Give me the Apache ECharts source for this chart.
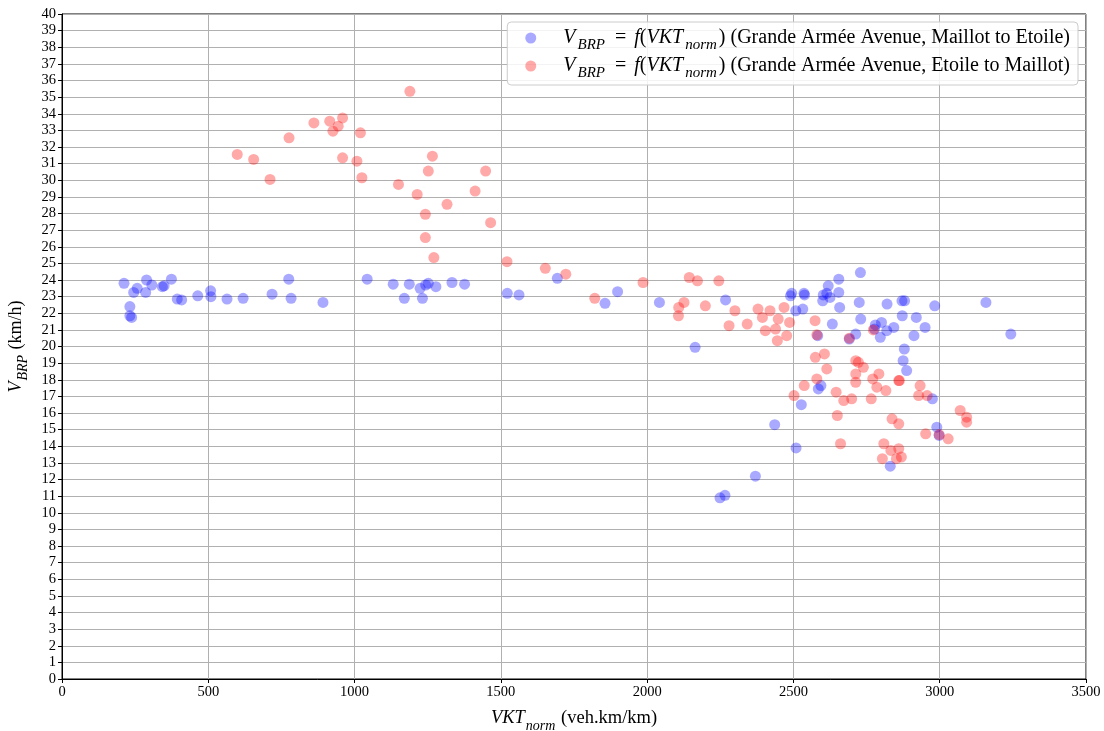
<!DOCTYPE html>
<html><head><meta charset="utf-8">
<script src="https://cdn.jsdelivr.net/npm/echarts@6/dist/echarts.min.js"></script>
<style>html,body{margin:0;padding:0;background:#fff}#c{width:1104px;height:731px}</style>
</head><body><div id="c"></div>
<script>
// Series: [VKT_norm (veh.km/km), V_BRP (km/h)]
const maillotToEtoile = [
[212,23.8],[232,22.4],[232,21.85],[238,21.75],[245,23.25],[257,23.5],[286,23.25],[289,24.0],[307,23.7],[343,23.6],[349,23.65],[374,24.05],[394,22.85],[409,22.8],[464,23.05],[508,23.35],[509,23.0],[564,22.85],[619,22.9],[718,23.15],[775,24.05],[783,22.9],[892,22.65],[1043,24.05],[1132,23.75],[1170,22.9],[1187,23.75],[1224,23.5],[1232,22.9],[1243,23.7],[1252,23.8],[1278,23.6],[1333,23.85],[1376,23.75],[1522,23.2],[1562,23.1],[1693,24.1],[1856,22.6],[1899,23.3],[2042,22.65],[2164,19.95],[2268,22.8],[2249,10.9],[2266,11.05],[2370,12.2],[2436,15.3],[2509,13.9],[2527,16.5],[2494,23.2],[2490,23.05],[2508,22.15],[2536,23.2],[2538,23.1],[2532,22.25],[2585,17.45],[2594,17.65],[2583,20.65],[2600,22.75],[2602,23.1],[2614,23.2],[2619,23.65],[2625,22.95],[2633,21.35],[2655,24.05],[2655,23.25],[2658,22.35],[2691,20.45],[2713,20.75],[2725,22.65],[2729,24.45],[2730,21.65],[2777,21.05],[2780,21.3],[2797,20.55],[2801,21.45],[2819,20.95],[2820,22.55],[2843,21.15],[2871,22.75],[2880,22.75],[2872,21.85],[2879,19.85],[2875,19.15],[2887,18.55],[2912,20.65],[2920,21.75],[2950,21.15],[2983,22.45],[2975,16.85],[2990,15.15],[2998,14.65],[2831,12.8],[3158,22.65],[3243,20.75]
];
const etoileToMaillot = [
[599,31.55],[655,31.25],[711,30.05],[776,32.55],[861,33.45],[915,33.55],[926,32.95],[944,33.25],[959,33.75],[959,31.35],[1008,31.15],[1020,32.85],[1025,30.15],[1150,29.75],[1189,35.35],[1214,29.15],[1242,27.95],[1242,26.55],[1252,30.55],[1266,31.45],[1271,25.35],[1316,28.55],[1412,29.35],[1448,30.55],[1465,27.45],[1521,25.1],[1652,24.7],[1722,24.35],[1821,22.9],[1986,23.85],[2107,21.85],[2108,22.35],[2126,22.65],[2144,24.15],[2172,23.95],[2199,22.45],[2245,23.95],[2280,21.25],[2300,22.15],[2342,21.35],[2379,22.25],[2394,21.75],[2404,20.95],[2420,22.15],[2439,21.05],[2445,20.35],[2448,21.65],[2468,22.35],[2477,20.65],[2487,21.45],[2502,17.05],[2537,17.65],[2574,21.55],[2575,19.35],[2580,20.7],[2580,18.05],[2606,19.55],[2614,18.65],[2646,17.25],[2650,15.85],[2661,14.15],[2672,16.75],[2691,20.5],[2699,16.85],[2713,19.15],[2722,19.05],[2739,18.75],[2713,18.35],[2713,17.85],[2766,16.85],[2771,18.05],[2773,21.0],[2785,17.55],[2792,18.35],[2816,17.35],[2804,13.25],[2809,14.15],[2833,13.75],[2837,15.65],[2852,13.25],[2860,13.85],[2860,15.35],[2860,17.95],[2862,17.95],[2869,13.35],[2928,17.05],[2933,17.65],[2952,14.75],[2957,17.05],[2998,14.7],[3029,14.45],[3070,16.15],[3092,15.75],[3092,15.45]
];
const seriesNames = ['Maillot to Etoile', 'Etoile to Maillot'];
const xRange = {min: 0, max: 3500, interval: 500};
const yRange = {min: 0, max: 40, interval: 1};

const FONT = '"Liberation Serif", "DejaVu Serif", serif';
const chart = echarts.init(document.getElementById('c'), null, {renderer: 'canvas'});
const mathRich = (size, sp) => ({
  i: {fontFamily: FONT, fontStyle: 'italic', fontSize: size, color: '#000'},
  s: {fontFamily: FONT, fontStyle: 'italic', fontSize: Math.round(size*0.75), color: '#000', verticalAlign: 'bottom', padding: [0,sp,-5,sp], lineHeight: Math.round(size*0.75)},
  t: {fontFamily: FONT, fontSize: size, color: '#000'},
  e: {fontFamily: FONT, fontSize: size, color: '#000', padding: [0,8,0,8]},
  g: {width: 22}
});
chart.setOption({
  backgroundColor: '#fff',
  animation: false,
  grid: {left: 62, right: 18, top: 14, bottom: 52, show: true, borderColor: '#000', borderWidth: 1, outerBoundsMode: 'none', containLabel: false},
  legend: {
    right: 26, top: 22, orient: 'vertical',
    padding: [6, 8, 4, 18],
    itemGap: 3,
    itemWidth: 11, itemHeight: 11,
    backgroundColor: 'rgba(255,255,255,0.85)',
    borderColor: '#cccccc', borderWidth: 1, borderRadius: 4,
    data: seriesNames.map(n => ({name: n, icon: 'circle'})),
    formatter: n => '{g|}{i|V}{s|BRP}{e|=}{i|f}{t|(}{i|VKT}{s|norm}{t|) (Grande Armée Avenue, ' + n + ')}',
    textStyle: {rich: mathRich(20, 2), fontFamily: FONT, fontSize: 20}
  },
  xAxis: {
    type: 'value', min: xRange.min, max: xRange.max, interval: xRange.interval,
    name: '{i|VKT}{s|norm}{t| (veh.km/km)}', nameLocation: 'middle', nameGap: 30,
    nameTextStyle: {rich: mathRich(18.5, 1)},
    axisLine: {show: true, lineStyle: {color: '#000', width: 1}},
    axisTick: {show: true, inside: false, length: 4, lineStyle: {color: '#000'}},
    axisLabel: {color: '#000', fontFamily: FONT, fontSize: 14.5, margin: 6, formatter: v => String(v)},
    splitLine: {show: true, lineStyle: {color: '#b0b0b0', width: 1}}
  },
  yAxis: {
    type: 'value', min: yRange.min, max: yRange.max, interval: yRange.interval,
    name: '{i|V}{s|BRP}{t| (km/h)}', nameLocation: 'middle', nameGap: 36,
    nameTextStyle: {rich: mathRich(18, 1)},
    axisLine: {show: true, lineStyle: {color: '#000', width: 1}},
    axisTick: {show: true, inside: false, length: 4, lineStyle: {color: '#000'}},
    axisLabel: {color: '#000', fontFamily: FONT, fontSize: 14.5, margin: 6, formatter: v => String(v)},
    splitLine: {show: true, lineStyle: {color: '#b0b0b0', width: 1}}
  },
  series: [
    {name: seriesNames[0], type: 'scatter', data: maillotToEtoile, symbolSize: 11,
     itemStyle: {color: 'rgba(0,0,255,0.42)'}, emphasis: {disabled: true}},
    {name: seriesNames[1], type: 'scatter', data: etoileToMaillot, symbolSize: 11,
     itemStyle: {color: 'rgba(255,0,0,0.42)'}, emphasis: {disabled: true}}
  ]
});
</script></body></html>
